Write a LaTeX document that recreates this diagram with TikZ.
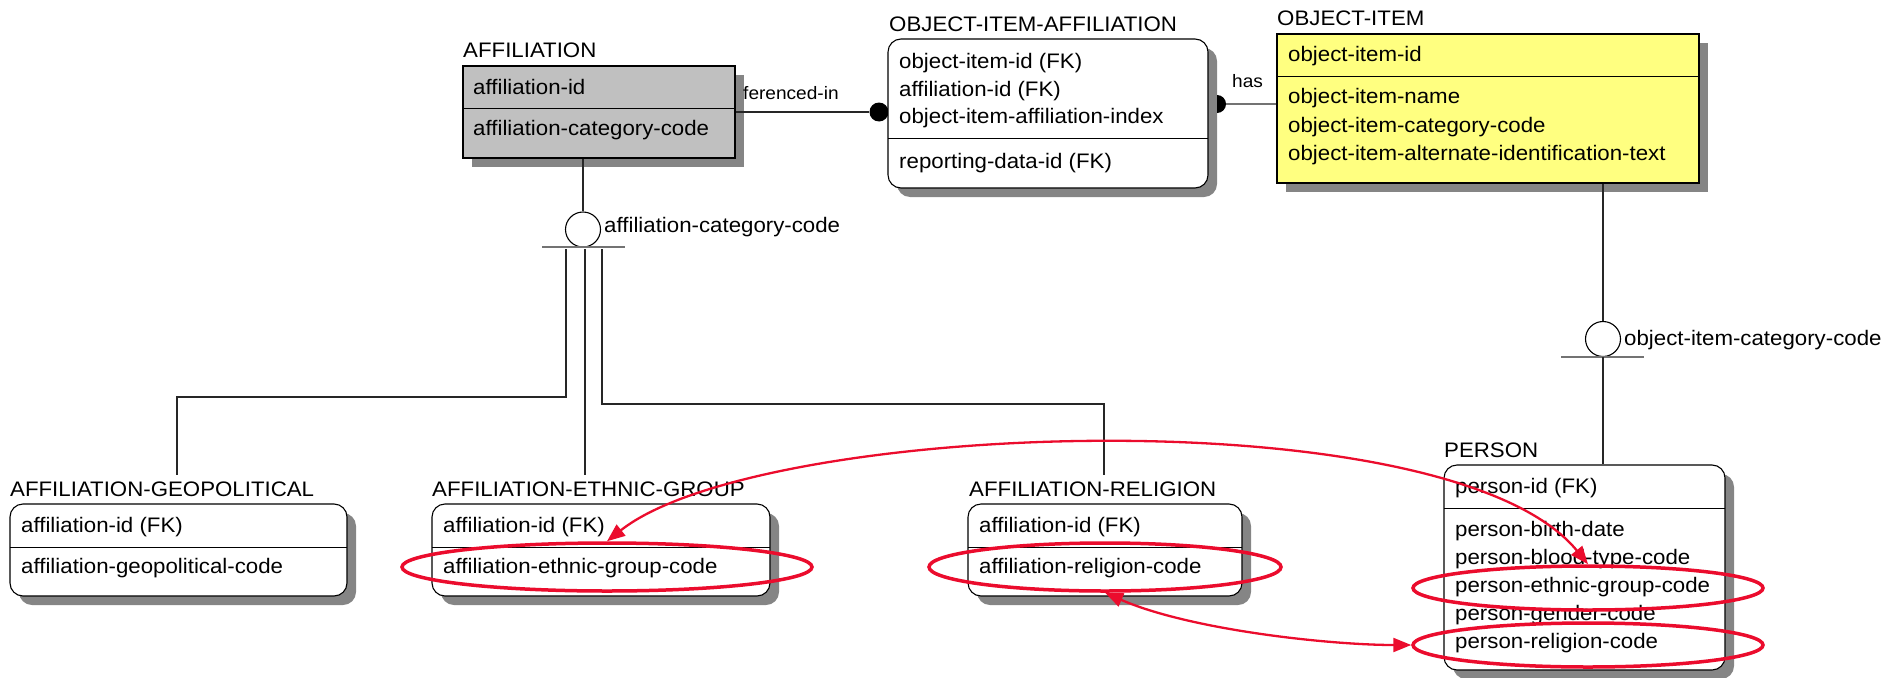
\documentclass[tikz,border=0pt]{standalone}
\usepackage{fontspec}
\setmainfont{Liberation Sans}[FakeStretch=1.06]
\usetikzlibrary{shapes.geometric,arrows.meta,shadows}
\definecolor{redann}{RGB}{235,12,45}
\definecolor{yel}{RGB}{255,255,128}
\definecolor{grayfill}{RGB}{192,192,192}
\newcommand\entfont{\fontsize{21}{25}\selectfont}
\newcommand\relfont{\fontsize{18}{22}\selectfont}
\begin{document}
\begin{tikzpicture}[x=1pt,y=-1pt,
  ent/.style={draw=black, line width=1.1pt, fill=white, inner sep=0pt,
    drop shadow={shadow xshift=9pt,shadow yshift=-9pt,fill=black!48,opacity=1}},
  rent/.style={ent, rounded corners=13pt},
  txt/.style={anchor=base west, inner sep=0pt, font=\entfont},
  reltxt/.style={anchor=base west, inner sep=0pt, font=\relfont},
  conn/.style={line width=1.1pt, draw=black!85},
  gconn/.style={line width=1.3pt, draw=black!55},
  divl/.style={line width=1pt, draw=black},
  catc/.style={circle, draw=black, line width=1.1pt, fill=white, minimum size=35pt, inner sep=0pt},
  ann/.style={draw=redann, line width=3.5pt, ellipse, inner sep=0pt},
  annarrow/.style={draw=redann, line width=2.3pt,
    {Triangle[length=18pt,width=14pt]}-{Triangle[length=18pt,width=14pt]}}
]
\useasboundingbox (0,0) rectangle (1889,677);

% ---------- connectors (behind boxes) ----------
\node[circle, fill=black, minimum size=19pt, inner sep=0pt] (dotL) at (879,112) {};
\coordinate (dotR) at (1217,104);
\node[catc] (c1) at (583,229.5) {};
\node[catc] (c2) at (1603,339) {};
\coordinate (b1l) at (542,247);
\coordinate (b1r) at (625,247);
\coordinate (b2l) at (1561,357);
\coordinate (b2r) at (1644,357);

% ---------- entities ----------
\node[ent, fill=grayfill, minimum width=272pt, minimum height=92pt] (aff) at (599,112) {};
\draw[divl] (463,108) -- (735,108);

\node[rent, minimum width=320pt, minimum height=149pt] (oia) at (1048,113.5) {};
\draw[divl] (888,138) -- (1208,138);

\node[ent, fill=yel, minimum width=422pt, minimum height=149pt] (oi) at (1488,108.5) {};
\draw[divl] (1277,76) -- (1699,76);

\node[rent, minimum width=337pt, minimum height=92pt] (geo) at (178.5,550) {};
\draw[divl] (10,547) -- (347,547);

\node[rent, minimum width=338pt, minimum height=92pt] (eth) at (601,550) {};
\draw[divl] (432,547) -- (770,547);

\node[rent, minimum width=274pt, minimum height=92pt] (rel) at (1105,550) {};
\draw[divl] (968,547) -- (1242,547);

\node[rent, minimum width=281pt, minimum height=205pt] (per) at (1584.5,567.5) {};
\draw[divl] (1444,508) -- (1725,508);

% ---------- relationship lines ----------
\draw[conn] (aff.east |- dotL) -- (dotL.west);
\fill[black] (dotR) ++(0,-9) arc[start angle=-90,end angle=90,radius=9] -- cycle;
\draw[gconn] (1226,104) -- (oi.west |- dotR);

\draw[conn] (c1 |- aff.south) -- (c1.north);
\draw[gconn] (b1l) -- (b1r);
\coordinate (g1) at (566,249);
\coordinate (g2) at (177,475);
\coordinate (e1) at (585,249);
\coordinate (e2) at (585,475);
\coordinate (r1) at (602,249);
\coordinate (r2) at (1104,475);
\draw[conn] (g1) -- (566,397) -| (g2);
\draw[conn] (e1) -- (e2);
\draw[conn] (r1) -- (602,404) -| (r2);

\draw[conn] (c2 |- oi.south) -- (c2.north);
\draw[gconn] (b2l) -- (b2r);
\draw[conn] (1603,357) -- (c2 |- per.north);

% ---------- texts ----------
\node[txt] (tAff) at (463,57) {AFFILIATION};
\node[txt] (aff1) at (473,94) {affiliation-id};
\node[txt] (aff2) at (473,135) {affiliation-category-code};

\node[txt] (tOia) at (889,32) {OBJECT-ITEM-AFFILIATION};
\node[txt] (oia1) at (899,68) {object-item-id (FK)};
\node[txt] (oia2) at (899,96) {affiliation-id (FK)};
\node[txt] (oia3) at (899,123) {object-item-affiliation-index};
\node[txt] (oia4) at (899,168) {reporting-data-id (FK)};

\node[txt] (tOi) at (1277,26) {OBJECT-ITEM};
\node[txt] (oi1) at (1288,62) {object-item-id};
\node[txt] (oi2) at (1288,103) {object-item-name};
\node[txt] (oi3) at (1288,132) {object-item-category-code};
\node[txt] (oi4) at (1288,160) {object-item-alternate-identification-text};

\node[txt] (tGeo) at (10,496) {AFFILIATION-GEOPOLITICAL};
\node[txt] (geo1) at (21,532) {affiliation-id (FK)};
\node[txt] (geo2) at (21,573) {affiliation-geopolitical-code};

\node[txt] (tEth) at (432,496) {AFFILIATION-ETHNIC-GROUP};
\node[txt] (eth1) at (443,532) {affiliation-id (FK)};
\node[txt] (eth2) at (443,573) {affiliation-ethnic-group-code};

\node[txt] (tRel) at (969,496) {AFFILIATION-RELIGION};
\node[txt] (rel1) at (979,532) {affiliation-id (FK)};
\node[txt] (rel2) at (979,573) {affiliation-religion-code};

\node[txt] (tPer) at (1444,457) {PERSON};
\node[txt] (per1) at (1455,493) {person-id (FK)};
\node[txt] (per2) at (1455,536) {person-birth-date};
\node[txt] (per3) at (1455,564) {person-blood-type-code};
\node[txt] (per4) at (1455,592) {person-ethnic-group-code};
\node[txt] (per5) at (1455,620) {person-gender-code};
\node[txt] (per6) at (1455,648) {person-religion-code};

\node[reltxt] (lRef) at (743,99) {ferenced-in};
\node[reltxt] (lHas) at (1232,88) {has};
\node[txt] (lC1) at (604,232) {affiliation-category-code};
\node[txt] (lC2) at (1624,345) {object-item-category-code};

% ---------- red annotations ----------
\node[ann, minimum width=410pt, minimum height=48pt] (E1) at (607,567) {};
\node[ann, minimum width=352pt, minimum height=48pt] (E2) at (1105,567) {};
\node[ann, minimum width=350pt, minimum height=44pt] (E3) at (1588,588) {};
\node[ann, minimum width=350pt, minimum height=44pt] (E4) at (1588,645) {};
\draw[annarrow] (E1.north) .. controls (760,420) and (1450,395) .. (E3.north);
\draw[annarrow] (E2.south) .. controls (1190,630) and (1330,645) .. (E4.west);
\end{tikzpicture}
\end{document}
